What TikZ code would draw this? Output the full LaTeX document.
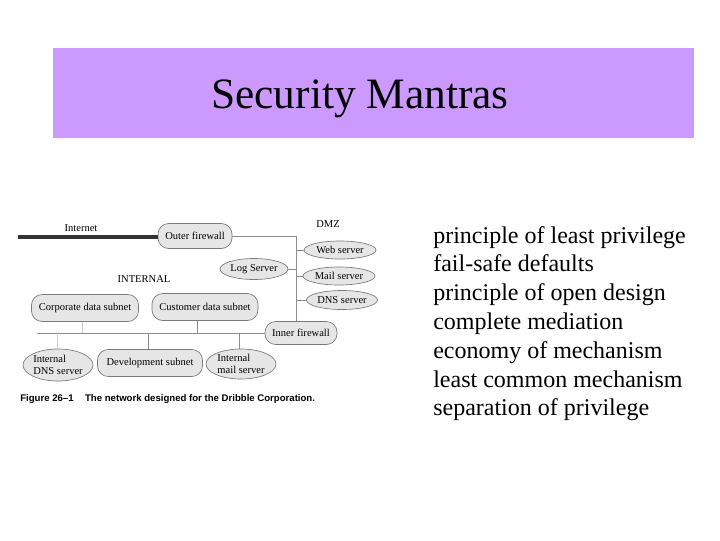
\documentclass[tikz,border=0pt]{standalone}
\usepackage{fontspec}
\setmainfont{Liberation Serif}
\newfontfamily\capfont{Liberation Sans}
\usetikzlibrary{shapes.geometric}
\definecolor{titlebg}{HTML}{CC99FF}
\definecolor{nodefill}{HTML}{E6E6E6}
\definecolor{nodeline}{HTML}{7A7A7A}
\definecolor{wire}{HTML}{8C8C8C}
\tikzset{
  figtext/.style={font=\fontsize{7.9}{8.6}\selectfont, inner sep=0pt},
  pill/.style={figtext, draw=nodeline, fill=nodefill, rounded corners=8pt, line width=0.5pt},
  oval/.style={figtext, draw=nodeline, fill=nodefill, ellipse, line width=0.5pt},
  wireline/.style={draw=wire, line width=0.6pt},
  faintwire/.style={draw=wire!45, line width=0.6pt},
  mantra/.style={font=\fontsize{18}{21.6}\selectfont, anchor=base west, inner sep=0pt},
}
\begin{document}
\begin{tikzpicture}[x=0.75pt, y=-0.75pt]
\useasboundingbox (0,0) rectangle (720,540);
\fill[white] (0,0) rectangle (720,540);
% title
\node[fill=titlebg, minimum width=641*0.75pt, minimum height=90*0.75pt, inner sep=0pt] (titlebox) at (373.5,93) {};
\node[font=\fontsize{32.5}{36}\selectfont, anchor=base, inner sep=0pt] (title) at (360,108) {Security Mantras};

% figure labels
\node[figtext] (internet) at (81,228) {Internet};
\node[figtext] (dmz) at (328,224) {DMZ};
\node[figtext] (internal) at (144,279) {INTERNAL};

% nodes
\node[pill, minimum width=74*0.75pt, minimum height=25*0.75pt] (outer) at (195,236) {Outer firewall};
\node[oval, minimum width=68*0.75pt, minimum height=21*0.75pt] (log) at (254,269) {Log Server};
\node[oval, minimum width=72*0.75pt, minimum height=18*0.75pt] (web) at (340,250) {Web server};
\node[oval, minimum width=72*0.75pt, minimum height=18*0.75pt] (mail) at (339,276) {Mail server};
\node[oval, minimum width=71*0.75pt, minimum height=19*0.75pt] (dns) at (342,300) {DNS server};
\node[pill, minimum width=72*0.75pt, minimum height=23*0.75pt] (inner) at (301,333) {Inner firewall};
\node[pill, minimum width=107*0.75pt, minimum height=27*0.75pt] (corp) at (85,308) {Corporate data subnet};
\node[pill, minimum width=106*0.75pt, minimum height=27*0.75pt] (cust) at (205,307) {Customer data subnet};
\node[oval, minimum width=70*0.75pt, minimum height=32*0.75pt, align=left] (idns) at (58,365) {Internal\\DNS server};
\node[pill, minimum width=105*0.75pt, minimum height=27*0.75pt] (dev) at (150,363) {Development subnet};
\node[oval, minimum width=70*0.75pt, minimum height=30*0.75pt, align=left] (imail) at (241,364) {Internal\\mail server};

% coordinates
\coordinate (netstart) at (18,237);
\coordinate (webtap) at (296,250);
\coordinate (logtap) at (296,269);
\coordinate (mailtap) at (296,276);
\coordinate (dnstap) at (296,300);
\coordinate (innertop) at (296,321);
\coordinate (busleft) at (37,333);
\coordinate (corptap) at (82,333);
\coordinate (idnstap) at (57,333);
\coordinate (devtap) at (148,333);
\coordinate (custtap) at (197,333);
\coordinate (imailtap) at (239,333);

% connectors
\draw[line width=3pt, draw=black!80] (netstart) -- (netstart -| outer.west);
\draw[wireline] (outer.east) -| (innertop);
\draw[wireline] (webtap) -- (web.west);
\draw[wireline] (log.east) -- (logtap);
\draw[wireline] (mailtap) -- (mail.west);
\draw[wireline] (dnstap) -- (dns.west);
\draw[wireline] (inner.west) -- (busleft);
\draw[faintwire] (corptap) -- (corptap |- corp.south);
\draw[faintwire] (idnstap) -- (idnstap |- idns.north);
\draw[wireline] (devtap) -- (devtap |- dev.north);
\draw[wireline] (custtap) -- (custtap |- cust.south);
\draw[wireline] (imailtap) -- (imailtap |- imail.north);

% caption
\node[font=\capfont\bfseries\fontsize{7.2}{8}\selectfont, anchor=base west, inner sep=0pt] (caption) at (20,401) {Figure 26–1\hspace{1.2em}The network designed for the Dribble Corporation.};

% mantras
\node[mantra] (m1) at (433,243) {principle of least privilege};
\node[mantra] (m2) at (433,271.8) {fail-safe defaults};
\node[mantra] (m3) at (433,300.6) {principle of open design};
\node[mantra] (m4) at (433,329.4) {complete mediation};
\node[mantra] (m5) at (433,358.2) {economy of mechanism};
\node[mantra] (m6) at (433,387) {least common mechanism};
\node[mantra] (m7) at (433,415.8) {separation of privilege};
\end{tikzpicture}
\end{document}
